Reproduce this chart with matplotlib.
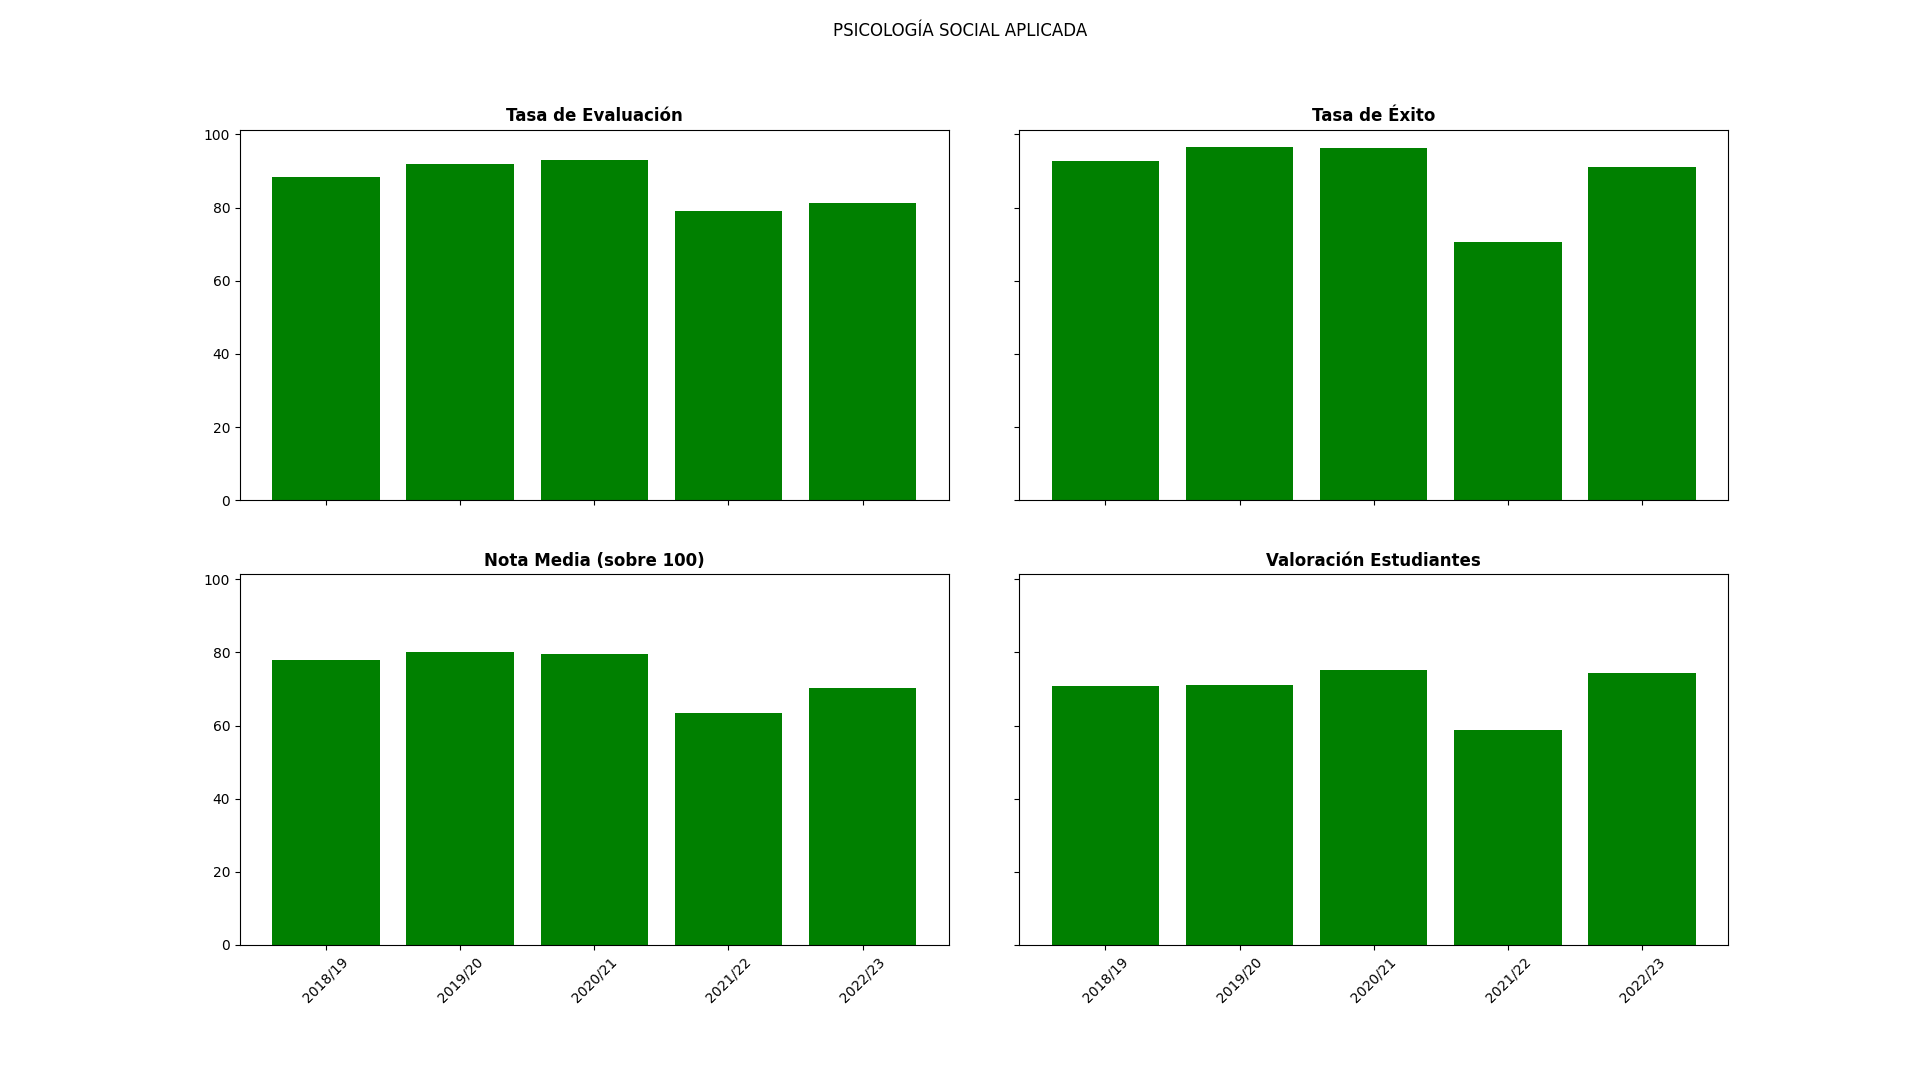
import matplotlib
matplotlib.use("Agg")
import matplotlib.pyplot as plt

CURSOS = ["2018/19", "2019/20", "2020/21", "2021/22", "2022/23"]

TASA_EVALUACION = [88.4, 92.0, 93.0, 79.2, 81.3]
TASA_EXITO = [92.7, 96.5, 96.3, 70.7, 91.1]
NOTA_MEDIA = [77.9, 80.0, 79.5, 63.4, 70.2]
VALORACION = [70.8, 71.0, 75.2, 58.7, 74.3]

PANELES = [
    ("Tasa de Evaluación", TASA_EVALUACION),
    ("Tasa de Éxito", TASA_EXITO),
    ("Nota Media (sobre 100)", NOTA_MEDIA),
    ("Valoración Estudiantes", VALORACION),
]


def main() -> None:
    fig, axes = plt.subplots(2, 2, figsize=(19.2, 10.8), dpi=100, sharex=True, sharey=True)
    fig.subplots_adjust(left=0.125, right=0.9, top=0.88, bottom=0.125, wspace=0.1, hspace=0.2)

    for ax, (titulo, valores) in zip(axes.flat, PANELES):
        ax.bar(CURSOS, valores, color="green")
        ax.set_title(titulo, fontweight="bold")

    for ax in axes[1]:
        ax.tick_params(axis="x", rotation=45)

    fig.suptitle("PSICOLOGÍA SOCIAL APLICADA")
    fig.savefig("out.png")
    plt.close(fig)


if __name__ == "__main__":
    main()
